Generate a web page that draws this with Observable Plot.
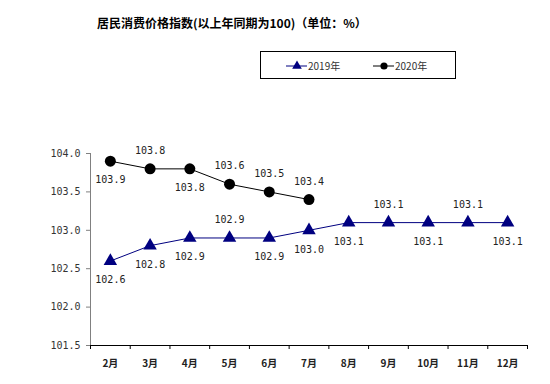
<!DOCTYPE html>
<html><head><meta charset="utf-8">
<script src="https://cdn.jsdelivr.net/npm/d3@7"></script>
<script src="https://cdn.jsdelivr.net/npm/@observablehq/plot@0.6"></script>
<style>
body{margin:0;background:#fff;}
#wrap{position:relative;width:550px;height:384px;}
#title{position:absolute;left:97px;top:14px;font:bold 12px "Noto Sans CJK SC",sans-serif;color:#000;white-space:nowrap;}
#legend{position:absolute;left:260px;top:51px;width:196px;height:28px;border:1px solid #000;box-sizing:border-box;font:10px "Noto Sans CJK SC",sans-serif;color:#333;}
#legend svg{position:absolute;left:0;top:0;}
</style></head><body>
<div id="wrap">
<div id="title">居民消费价格指数(以上年同期为100)（单位：%）</div>
<div id="legend"></div>
</div>
<script>
const months = ["2月","3月","4月","5月","6月","7月","8月","9月","10月","11月","12月"];
const values2019 = [102.6,102.8,102.9,102.9,102.9,103.0,103.1,103.1,103.1,103.1,103.1];
const values2020 = [103.9,103.8,103.8,103.6,103.5,103.4];
const labelSide2019 = ["below","below","below","above","below","below","below","above","below","above","below"];
const labelSide2020 = ["below","above","below","above","above","above"];
const yTicks = [101.5,102.0,102.5,103.0,103.5,104.0];
const seriesNames = ["2019年","2020年"];

const d19 = values2019.map((v,i)=>({i, v, side: labelSide2019[i]}));
const d20 = values2020.map((v,i)=>({i, v, side: labelSide2020[i]}));
const boundaries = d3.range(months.length+1).map(k=>k-0.5);
const mono = "'DejaVu Sans Mono', monospace";
const fmt = d3.format(".1f");

const chart = Plot.plot({
  width: 550, height: 384,
  marginLeft: 90, marginRight: 23, marginTop: 153, marginBottom: 39,
  x: {type: "linear", domain: [-0.5, months.length-0.5], label: null},
  y: {domain: [101.5, 104.0], label: null},
  style: {background: "#fff"},
  marks: [
    Plot.axisY({ticks: yTicks, label: null, tickSize: 4, stroke: "#808080", tickFormat: fmt, fontFamily: mono, fontSize: 10, fill: "#333", tickPadding: 6}),
    Plot.axisX({ticks: boundaries, label: null, tickSize: 4, tickFormat: () => "", stroke: "#000"}),
    Plot.axisX({ticks: d3.range(months.length), label: null, tickSize: 0, tickPadding: 14, tickFormat: k => months[k], fontFamily: "'Noto Sans CJK SC', sans-serif", fontSize: 10, fontWeight: "bold", fill: "#222"}),
    Plot.ruleX([-0.5], {stroke: "#808080"}),
    Plot.ruleY([101.5], {stroke: "#000", strokeWidth: 1.2}),
    Plot.line(d19, {x: "i", y: "v", stroke: "#000080", strokeWidth: 1}),
    Plot.line(d20, {x: "i", y: "v", stroke: "#000", strokeWidth: 1}),
    Plot.dot(d19, {x: "i", y: "v", symbol: "triangle", r: 5, fill: "#000080", stroke: "none"}),
    Plot.dot(d20, {x: "i", y: "v", symbol: "circle", r: 5.5, fill: "#000", stroke: "none"}),
    ...[d19, d20].flatMap(d => [
      Plot.text(d.filter(p=>p.side==="above"), {x: "i", y: "v", text: p => fmt(p.v), dy: -18, fontFamily: mono, fontSize: 10, fill: "#222"}),
      Plot.text(d.filter(p=>p.side==="below"), {x: "i", y: "v", text: p => fmt(p.v), dy: 19, fontFamily: mono, fontSize: 10, fill: "#222"})
    ])
  ]
});
document.getElementById("wrap").prepend(chart);

// legend
const lg = d3.select("#legend").append("svg").attr("width", 196).attr("height", 28);
const items = [
  {name: seriesNames[0], color: "#000080", sym: d3.symbolTriangle, x0: 25},
  {name: seriesNames[1], color: "#000", sym: d3.symbolCircle, x0: 112}
];
items.forEach(it => {
  lg.append("line").attr("x1", it.x0).attr("x2", it.x0+21).attr("y1", 14).attr("y2", 14).attr("stroke", it.color);
  lg.append("path").attr("d", d3.symbol(it.sym, 40)()).attr("transform", `translate(${it.x0+11},14)`).attr("fill", it.color);
  lg.append("text").attr("x", it.x0+22).attr("y", 14).attr("dy", "0.35em").attr("font-size", 10).attr("fill", "#333")
    .attr("font-family", "'Noto Sans CJK SC', sans-serif").text(it.name);
});
</script>
</body></html>
